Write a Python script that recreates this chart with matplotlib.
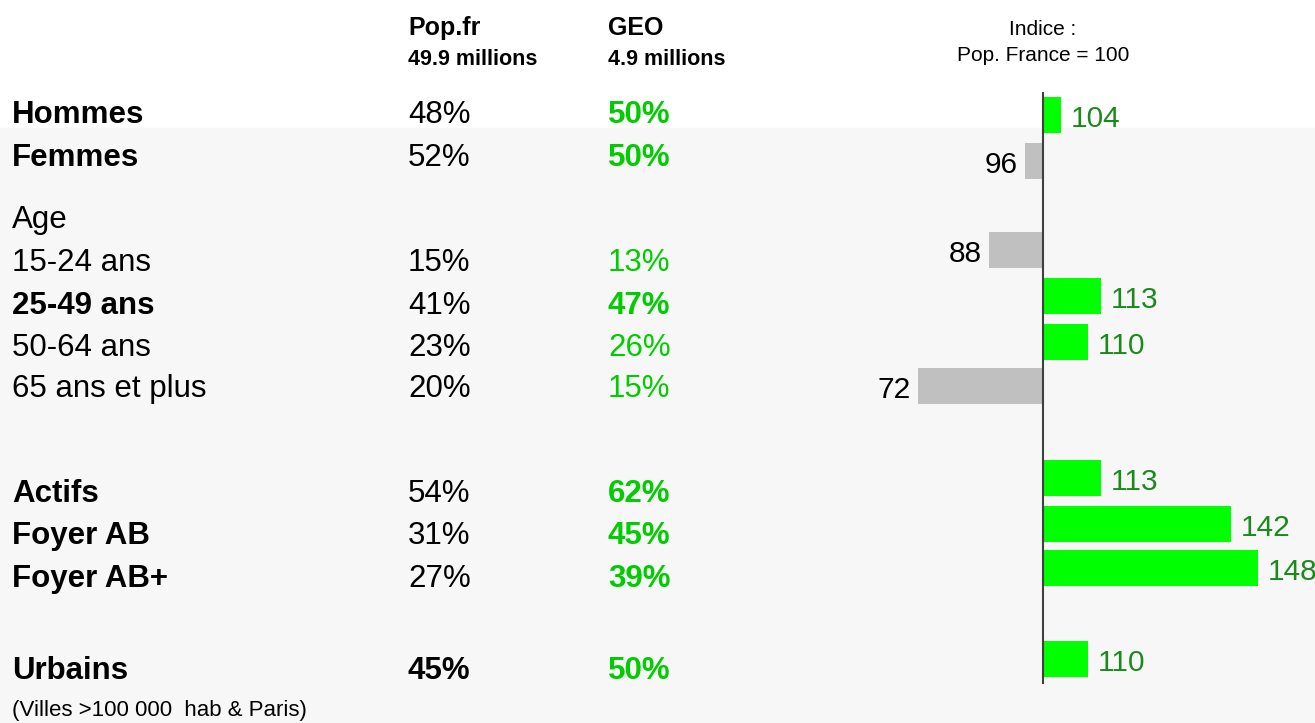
import matplotlib
matplotlib.use("Agg")
import matplotlib.pyplot as plt
from matplotlib.patches import Rectangle

plt.rcParams['font.family'] = ['Liberation Sans', 'DejaVu Sans']

# ---------------- data ----------------
labels = ["Hommes", "Femmes", "Age", "15-24 ans", "25-49 ans", "50-64 ans",
          "65 ans et plus", "Actifs", "Foyer AB", "Foyer AB+", "Urbains"]
label_bold = [True, True, False, False, True, False, False, True, True, True, True]
pop_fr = ["48%", "52%", "", "15%", "41%", "23%", "20%", "54%", "31%", "27%", "45%"]
pop_bold = [False, False, False, False, False, False, False, False, False, False, True]
geo = ["50%", "50%", "", "13%", "47%", "26%", "15%", "62%", "45%", "39%", "50%"]
geo_bold = [True, True, False, False, True, False, False, True, True, True, True]

index_values = [104, 96, 88, 113, 110, 72, 113, 142, 148, 110]

header_pop = ("Pop.fr", "49.9 millions")
header_geo = ("GEO", "4.9 millions")
header_idx = ("Indice :", "Pop. France = 100")
footnote = "(Villes >100 000  hab & Paris)"

# ---------------- layout (pixels) ----------------
W, H = 1315, 723
row_base = [123, 166, 228, 271, 314, 356, 397, 502, 544, 587, 679]
bar_y = [115, 161, 250, 296, 342, 386, 478, 524, 568, 659]
bar_h = 36
x_label, x_pop, x_geo = 12, 408, 608

GREEN_TXT = "#00cc00"
GREEN_BAR = "#00ff00"
GREEN_LBL = "#1a8a1a"
GREY_BAR = "#c0c0c0"
BG = "#f7f7f7"

fig = plt.figure(figsize=(W / 100, H / 100), dpi=100)
ax = fig.add_axes([0, 0, 1, 1])
ax.set_xlim(0, W)
ax.set_ylim(H, 0)
ax.axis("off")

ax.add_patch(Rectangle((0, 128), W, H - 128, color=BG, zorder=0))

# headers
ax.text(x_pop, 35, header_pop[0], fontsize=18, fontweight="bold", va="baseline", ha="left")
ax.text(x_pop, 65, header_pop[1], fontsize=15.5, fontweight="bold", va="baseline", ha="left")
ax.text(x_geo, 35, header_geo[0], fontsize=18, fontweight="bold", va="baseline", ha="left")
ax.text(x_geo, 65, header_geo[1], fontsize=15.5, fontweight="bold", va="baseline", ha="left")
ax.text(1043, 35, header_idx[0], fontsize=15, va="baseline", ha="center")
ax.text(1043, 61, header_idx[1], fontsize=15, va="baseline", ha="center")

for y, lab, lb, p, pb, g, gb in zip(row_base, labels, label_bold, pop_fr, pop_bold, geo, geo_bold):
    ax.text(x_label, y, lab, fontsize=22.5, fontweight="bold" if lb else "normal",
            va="baseline", ha="left")
    if p:
        ax.text(x_pop, y, p, fontsize=22.5, fontweight="bold" if pb else "normal",
                va="baseline", ha="left")
    if g:
        ax.text(x_geo, y, g, fontsize=22.5, fontweight="bold" if gb else "normal",
                color=GREEN_TXT, va="baseline", ha="left")

ax.text(x_label, 716, footnote, fontsize=16, va="baseline", ha="left")

# ---------------- index bars ----------------
px_per_unit = 4.47
x0_pix = 1043
lo = 100 - (x0_pix - 864) / px_per_unit
hi = lo + 447 / px_per_unit
bx = fig.add_axes([864 / W, 0, 447 / W, 1])
bx.set_xlim(lo, hi)
bx.set_ylim(H, 0)
bx.axis("off")
bx.patch.set_alpha(0)

widths = [v - 100 for v in index_values]
colors = [GREEN_BAR if v > 100 else GREY_BAR for v in index_values]
bx.barh(bar_y, widths, left=100, height=bar_h, color=colors, zorder=2)
bx.plot([100, 100], [93, 683], color="#404040", lw=1.5, zorder=3)

for y, v in zip(bar_y, index_values):
    if v > 100:
        bx.text(v + 2.2, y + 12, str(v), fontsize=21.5, color=GREEN_LBL, va="baseline", ha="left")
    else:
        bx.text(v - 1.6, y + 12, str(v), fontsize=21.5, color="black", va="baseline", ha="right")

fig.savefig("out.png", dpi=100)
